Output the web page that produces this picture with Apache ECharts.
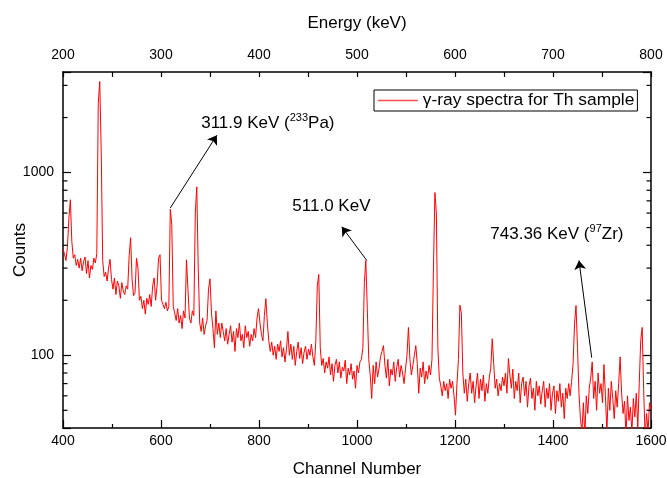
<!DOCTYPE html>
<html><head><meta charset="utf-8">
<script src="https://cdn.jsdelivr.net/npm/echarts@6/dist/echarts.min.js"></script>
<style>html,body{margin:0;padding:0;background:#fff}#c{width:667px;height:478px}</style>
</head><body><div id="c"></div>
<script>
// Channel binning of the spectrum
const channelStart = 400;
const channelStep = 3;
// Counts per bin (channels 400..697)
const countsA = [380,360,330,390,560,710,420,340,355,310,
 335,300,340,290,325,345,280,330,265,310,
 295,340,320,360,2400,3150,1300,330,270,285,
 255,300,335,260,230,265,215,255,240,205,
 250,225,215,240,230,350,440,260,212,220,
 340,300,200,210,180,200,168,205,190,215,
 185,240,265,200,240,340,355,200,190,180,
 195,175,185,630,520,185,170,155,180,150,
 165,140,175,160,333,230,160,150,175,165,
 600,835,300,150,135,160,130,145,155,230];
// channels 700..997
const countsB = [262,170,140,110,175,130,150,125,150,135,
 120,140,115,130,145,118,135,105,140,125,
 150,120,130,110,145,125,135,112,130,120,
 140,125,160,180,150,130,120,165,204,150,
 120,105,118,100,112,95,115,105,120,98,
 110,92,108,135,100,115,95,112,88,105,
 118,96,110,90,104,112,95,108,100,115,
 98,88,120,240,277,110,88,96,80,92,
 85,98,78,90,72,88,95,80,92,75,
 86,82,94,70,85,78,90,74,82,66];
// channels 1000..1297
const countsC = [88,80,92,95,110,250,330,180,95,78,
 58,88,70,92,76,85,98,105,113,88,
 75,95,68,84,78,92,72,86,95,76,
 88,80,70,84,100,142,95,78,88,100,
 113,90,62,85,76,92,70,82,74,88,
 78,95,300,777,600,110,75,68,60,72,
 64,70,58,74,66,72,60,47,70,95,
 188,170,80,62,74,56,70,80,62,72,
 55,68,80,58,74,64,78,56,70,62,
 76,85,123,90,66,74,60,70,64,76];
// channels 1300..1600
const countsD = [68,80,62,96,78,66,84,58,72,64,
 80,55,70,76,60,72,52,68,75,58,
 66,50,72,60,68,54,64,72,52,66,
 58,70,50,62,68,48,64,56,70,52,
 62,45,66,58,70,60,72,90,150,187,
 110,62,45,38,55,36,60,48,66,75,
 92,58,72,50,80,62,70,55,89,60,
 38,66,50,72,58,45,64,52,70,98,
 62,48,56,36,60,44,52,38,58,46,
 62,40,70,120,142,65,36,48,38,55,
 50];

const seriesName = 'γ-ray spectra for Th sample';
const channelTicks = [400, 1600, 200];   // min, max, interval
const energyTicks = [200, 800, 100];
const countsRange = [40, 3550];
const countsMajorLabels = [100, 1000];
const countsMinorTicks = [50,60,70,80,90,200,300,400,500,600,700,800,900,2000,3000];

// Annotations (data coordinates: channel, counts)
const arrowStarts = [[619, 640], [1020, 330], [1479, 97]];
const arrowEnds = [[714, 1600], [969, 505], [1453, 330]];
const labelAnchors = [[681, 1870], [867, 650], [1271, 462]];
const labelTexts = [
  '{a|311.9 KeV (}{s|233}{a|Pa)}',
  '{a|511.0 KeV}',
  '{a|743.36 KeV (}{s|97}{a|Zr)}'
];

const counts = countsA.concat(countsB, countsC, countsD);
const spectrum = counts.map((c, i) => [channelStart + channelStep * i, c]);

const FONT = 'Liberation Sans, Arial, sans-serif';
const axisLineStyle = {color: '#000', width: 1.5};
const tickLineStyle = {color: '#000', width: 1.2};
const plainNumber = v => String(Math.round(v));

const chart = echarts.init(document.getElementById('c'), null, {renderer: 'canvas'});
chart.setOption({
  animation: false,
  backgroundColor: '#fff',
  textStyle: {fontFamily: FONT},
  grid: {left: 63, right: 16, top: 72, bottom: 50, containLabel: false, outerBoundsMode: 'none'},
  legend: {
    data: [{name: seriesName, lineStyle: {color: '#ff4d4d', width: 1.5}, itemStyle: {opacity: 0}}],
    left: 374, top: 90,
    itemWidth: 40, itemHeight: 14,
    padding: [2, 3, 2, 3],
    borderColor: '#000', borderWidth: 1,
    textStyle: {fontSize: 17.4, color: '#000', fontFamily: FONT}
  },
  xAxis: [{
    type: 'value', min: channelTicks[0], max: channelTicks[1], interval: channelTicks[2],
    position: 'bottom',
    name: 'Channel Number', nameLocation: 'middle', nameGap: 33, nameMoveOverlap: false,
    nameTextStyle: {fontSize: 17, color: '#000', fontFamily: FONT},
    axisLine: {show: true, onZero: false, lineStyle: axisLineStyle},
    axisTick: {show: true, inside: true, length: 8, lineStyle: tickLineStyle},
    minorTick: {show: true, splitNumber: 2, length: 4, lineStyle: tickLineStyle},
    axisLabel: {fontSize: 14, color: '#000', margin: 6, fontFamily: FONT, formatter: plainNumber},
    splitLine: {show: false}
  }, {
    type: 'value', min: energyTicks[0], max: energyTicks[1], interval: energyTicks[2],
    position: 'top',
    name: 'Energy (keV)', nameLocation: 'middle', nameGap: 40, nameMoveOverlap: false,
    nameTextStyle: {fontSize: 17, color: '#000', fontFamily: FONT},
    axisLine: {show: true, onZero: false, lineStyle: axisLineStyle},
    axisTick: {show: true, inside: true, length: 5, lineStyle: tickLineStyle},
    minorTick: {show: true, splitNumber: 2, length: 5, lineStyle: tickLineStyle},
    axisLabel: {fontSize: 14, color: '#000', margin: 10, fontFamily: FONT, formatter: plainNumber},
    splitLine: {show: false}
  }],
  yAxis: [{
    type: 'log', logBase: 10, min: countsRange[0], max: countsRange[1],
    position: 'left',
    name: 'Counts', nameLocation: 'middle', nameGap: 34, nameMoveOverlap: false,
    nameTextStyle: {fontSize: 17, color: '#000', fontFamily: FONT},
    axisLine: {show: true, onZero: false, lineStyle: axisLineStyle},
    axisTick: {show: true, inside: true, length: 8, lineStyle: tickLineStyle},
    axisLabel: {fontSize: 14, color: '#000', margin: 9, fontFamily: FONT,
      formatter: v => countsMajorLabels.indexOf(Math.round(v)) >= 0 ? String(Math.round(v)) : ''},
    splitLine: {show: false}
  }, {
    type: 'log', logBase: 10, min: countsRange[0], max: countsRange[1],
    position: 'right',
    axisLine: {show: true, onZero: false, lineStyle: axisLineStyle},
    axisTick: {show: true, inside: true, length: 8, lineStyle: tickLineStyle},
    axisLabel: {show: false},
    splitLine: {show: false}
  }],
  series: [{
    type: 'line', name: seriesName, xAxisIndex: 0, yAxisIndex: 0,
    data: spectrum, symbol: 'none', showSymbol: false,
    lineStyle: {color: '#ff0000', width: 1},
    itemStyle: {color: '#ff0000'},
    emphasis: {disabled: true},
    z: 3,
    markLine: {
      silent: true, animation: false,
      symbol: ['none', 'arrow'], symbolSize: 9,
      lineStyle: {color: '#000', width: 1, type: 'solid'},
      label: {show: false},
      emphasis: {disabled: true},
      data: arrowStarts.map((s, i) => [{coord: s}, {coord: arrowEnds[i]}])
    },
    markPoint: {
      silent: true, animation: false,
      symbol: 'rect', symbolSize: 1,
      itemStyle: {color: 'rgba(0,0,0,0)'},
      label: {
        show: true, position: 'right', distance: 0, color: '#000',
        formatter: p => p.data.txt,
        rich: {
          a: {fontSize: 17, lineHeight: 20, color: '#000', fontFamily: FONT},
          s: {fontSize: 11, lineHeight: 11, verticalAlign: 'top', color: '#000', fontFamily: FONT}
        }
      },
      data: labelAnchors.map((c, i) => ({coord: c, txt: labelTexts[i]}))
    }
  }, {
    type: 'custom', name: 'minorTicks', xAxisIndex: 0, yAxisIndex: 0,
    silent: true, clip: false, z: 4,
    data: countsMinorTicks.map(v => [channelTicks[0], v]),
    renderItem: function (params, api) {
      const v = api.value(1);
      const p = api.coord([channelTicks[0], v]);
      const q = api.coord([channelTicks[1], v]);
      return {
        type: 'group',
        children: [
          {type: 'line', shape: {x1: p[0], y1: p[1], x2: p[0] + 4.5, y2: p[1]}, style: {stroke: '#000', lineWidth: 1.2}},
          {type: 'line', shape: {x1: q[0] - 4.5, y1: q[1], x2: q[0], y2: q[1]}, style: {stroke: '#000', lineWidth: 1.2}}
        ]
      };
    }
  }]
});
</script>
</body></html>
